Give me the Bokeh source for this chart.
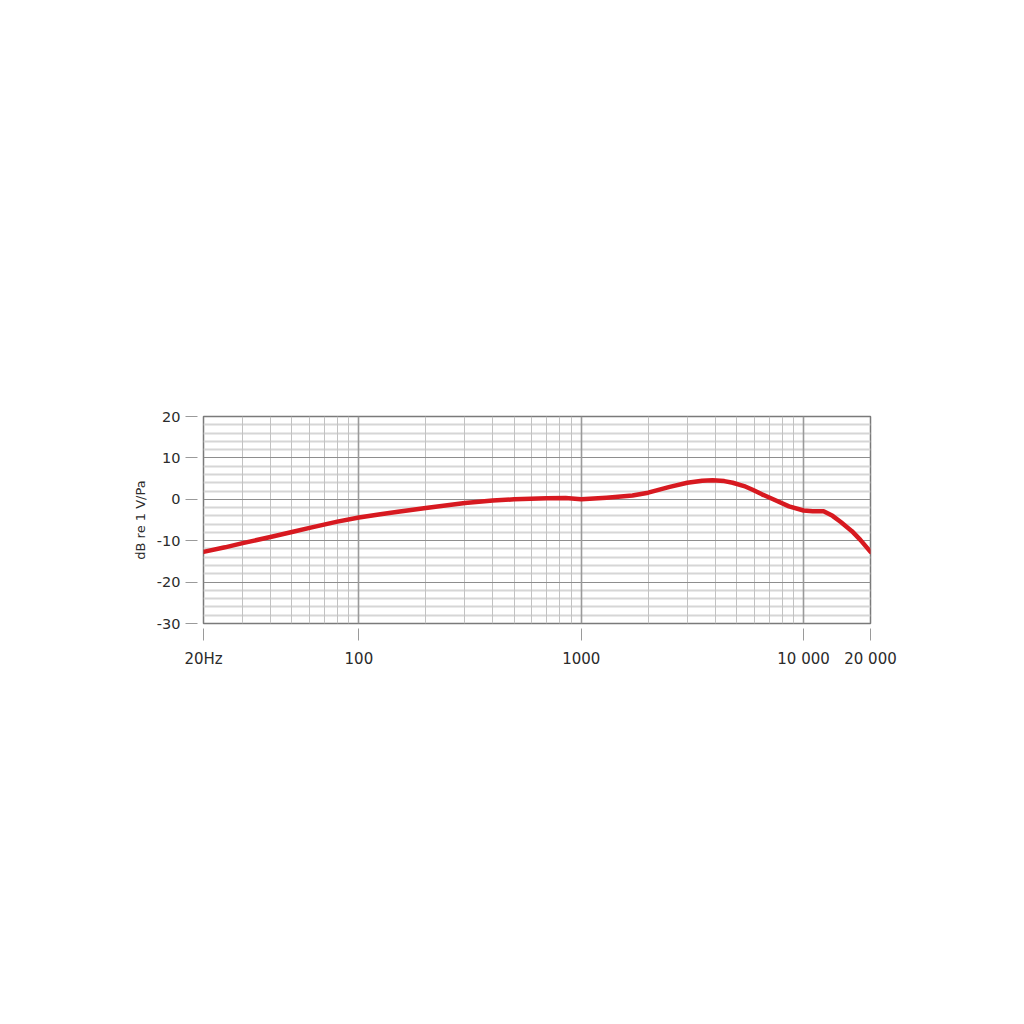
from bokeh.plotting import figure
from bokeh.models import FixedTicker, Range1d, Grid, LogAxis, LinearAxis, LogScale
from bokeh.embed import file_html
from bokeh.resources import INLINE

# Frequency response
freq_hz = [20, 25, 30, 40, 50, 60, 80, 100, 125, 150, 200, 300, 400, 500, 700,
           850, 1000, 1300, 1700, 2000, 2500, 3000, 3500, 3900, 4400, 4800,
           5400, 5900, 6500, 7300, 8600, 10000, 11000, 12300, 13500, 14700,
           16500, 18000, 20000]
level_db = [-12.7, -11.6, -10.6, -9.1, -7.9, -6.9, -5.4, -4.4, -3.6, -3.0, -2.1,
            -0.9, -0.3, 0.0, 0.25, 0.3, 0.0, 0.4, 0.9, 1.6, 3.0, 4.0, 4.5, 4.6,
            4.4, 4.0, 3.2, 2.3, 1.2, 0.0, -1.7, -2.7, -2.9, -2.9, -4.0, -5.5,
            -7.7, -9.8, -12.7]

x_ticks = [20, 100, 1000, 10000, 20000]
x_tick_labels = {20: "20Hz", 100: "100", 1000: "1000", 10000: "10 000", 20000: "20 000"}
y_ticks = [20, 10, 0, -10, -20, -30]
y_tick_labels = {20: "20", 10: "10", 0: "0", -10: "-10", -20: "-20", -30: "-30"}

x_major_grid = [100, 1000, 10000]
x_minor_grid = [30, 40, 50, 60, 70, 80, 90, 200, 300, 400, 500, 600, 700, 800, 900,
                2000, 3000, 4000, 5000, 6000, 7000, 8000, 9000]
y_major_grid = [10, 0, -10, -20]
y_minor_grid = [18, 16, 14, 12, 8, 6, 4, 2, -2, -4, -6, -8, -12, -14, -16, -18,
                -22, -24, -26, -28]

FONT = "DejaVu Sans"
TEXT = "#2b2b2b"

p = figure(x_axis_type=None, y_axis_type=None,
           x_range=Range1d(20, 20000), y_range=Range1d(-30, 20),
           frame_width=667, frame_height=207,
           min_border_left=203, min_border_right=140,
           min_border_top=416, min_border_bottom=380,
           output_backend="svg", toolbar_location=None)
p.x_scale = LogScale()

p.outline_line_color = "#7a7a7a"
p.outline_line_width = 1.5
p.background_fill_color = "white"
p.border_fill_color = "white"

xaxis = LogAxis(ticker=FixedTicker(ticks=x_ticks),
                major_label_overrides=x_tick_labels)
yaxis = LinearAxis(ticker=FixedTicker(ticks=y_ticks),
                   major_label_overrides=y_tick_labels,
                   axis_label="dB re 1 V/Pa")
for ax in (xaxis, yaxis):
    ax.axis_line_color = None
    ax.minor_tick_line_color = None
    ax.major_tick_line_color = "#9a9a9a"
    ax.major_tick_line_width = 1
    ax.major_label_text_font = FONT
    ax.major_label_text_color = TEXT
xaxis.major_label_text_font_size = "15px"
yaxis.major_label_text_font_size = "14.5px"
xaxis.major_tick_in = -5
xaxis.major_tick_out = 17
xaxis.major_label_standoff = 9
yaxis.major_tick_in = -6
yaxis.major_tick_out = 18
yaxis.major_label_standoff = 5
yaxis.axis_label_text_font = FONT
yaxis.axis_label_text_font_size = "13px"
yaxis.axis_label_text_font_style = "normal"
yaxis.axis_label_text_color = TEXT
yaxis.axis_label_standoff = 6
p.add_layout(xaxis, "below")
p.add_layout(yaxis, "left")

# grids
p.add_layout(Grid(dimension=1, ticker=FixedTicker(ticks=y_minor_grid),
                  grid_line_color="#d6d6d6", grid_line_width=2))
p.add_layout(Grid(dimension=0, ticker=FixedTicker(ticks=x_minor_grid),
                  grid_line_color="#c2c2c2", grid_line_width=1))
p.add_layout(Grid(dimension=1, ticker=FixedTicker(ticks=y_major_grid),
                  grid_line_color="#8e8e8e", grid_line_width=1.2))
p.add_layout(Grid(dimension=0, ticker=FixedTicker(ticks=x_major_grid),
                  grid_line_color="#9a9a9a", grid_line_width=1.6))

p.line(freq_hz, level_db, line_color="#d71920", line_width=4.5,
       line_cap="round", line_join="round")

open("out.html", "w").write(file_html(p, INLINE))
